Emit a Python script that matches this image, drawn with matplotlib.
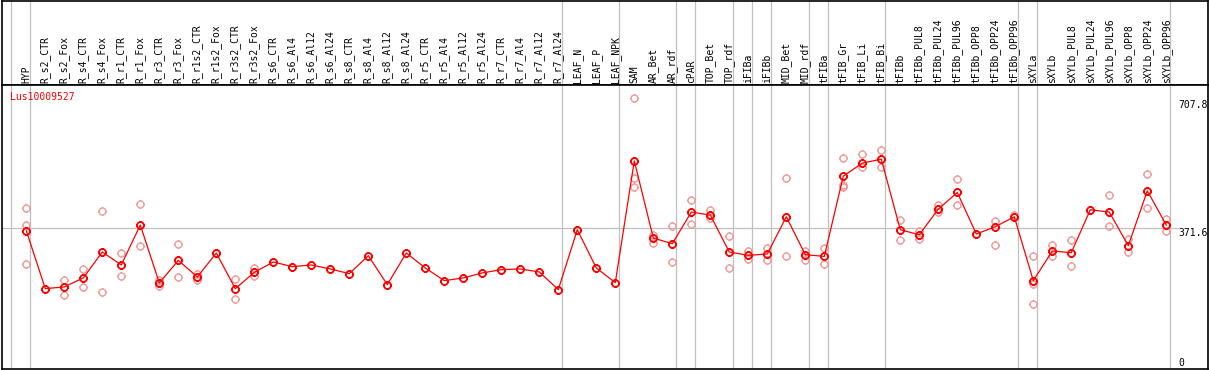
"""Perfil de expresión de un gen: media por muestra y réplicas, con cabecera de etiquetas."""

import matplotlib

matplotlib.use("Agg")

import matplotlib.pyplot as plt
import matplotlib.transforms as mtransforms
from matplotlib.path import Path

GENE = "Lus10009527"

CATEGORIES = [
    "HYP", "R_s2_CTR", "R_s2_Fox", "R_s4_CTR", "R_s4_Fox", "R_r1_CTR", "R_r1_Fox",
    "R_r3_CTR", "R_r3_Fox", "R_r1s2_CTR", "R_r1s2_Fox", "R_r3s2_CTR", "R_r3s2_Fox",
    "R_s6_CTR", "R_s6_Al4", "R_s6_Al12", "R_s6_Al24", "R_s8_CTR", "R_s8_Al4",
    "R_s8_Al12", "R_s8_Al24", "R_r5_CTR", "R_r5_Al4", "R_r5_Al12", "R_r5_Al24",
    "R_r7_CTR", "R_r7_Al4", "R_r7_Al12", "R_r7_Al24", "LEAF_N", "LEAF_P", "LEAF_NPK",
    "SAM", "AR_Bet", "AR_rdf", "cPAR", "TOP_Bet", "TOP_rdf", "iFIBa", "iFIBb",
    "MID_Bet", "MID_rdf", "tFIBa", "tFIB_Gr", "tFIB_Li", "tFIB_Bi", "tFIBb",
    "tFIBb_PUL8", "tFIBb_PUL24", "tFIBb_PUL96", "tFIBb_OPP8", "tFIBb_OPP24",
    "tFIBb_OPP96", "sXYLa", "sXYLb", "sXYLb_PUL8", "sXYLb_PUL24", "sXYLb_PUL96",
    "sXYLb_OPP8", "sXYLb_OPP24", "sXYLb_OPP96",
]

MEANS = [
    363.9, 198.3, 203.2, 228.9, 303.1, 266.0, 380.1, 214.6, 279.1, 231.7, 300.2,
    198.3, 244.9, 274.5, 261.1, 266.0, 254.6, 241.2, 292.5, 209.8, 300.2, 257.4,
    221.2, 228.9, 243.2, 252.6, 254.6, 246.0, 195.5, 366.7, 257.4, 215.5, 563.6,
    343.0, 326.8, 417.2, 408.7, 303.1, 293.4, 297.4, 403.8, 295.4, 290.5, 520.0,
    557.1, 568.5, 366.7, 352.5, 425.8, 473.2, 354.5, 375.3, 403.8, 221.2, 305.9,
    301.1, 423.8, 417.2, 321.1, 478.0, 380.1,
]

# réplicas visibles (las que quedan tapadas por la media se omiten)
REPLICATES = [
    [428.7, 381.0, 268.8], [], [224.0, 179.2], [254.6, 203.2], [421.0, 188.9],
    [300.2, 235.4], [440.1, 320.2], [224.0, 206.9], [325.9, 231.7], [241.2, 222.0],
    [], [226.0, 169.0], [257.4, 235.4], [], [], [], [], [], [], [], [], [], [], [],
    [], [], [], [], [], [], [], [], [743.4, 514.3, 488.6], [352.5, 328.8],
    [378.1, 274.5], [452.3, 383.0], [421.8, 400.1], [349.6, 257.4], [304.8, 283.1],
    [314.5, 279.1], [514.3, 292.5], [304.8, 281.1], [314.5, 268.8],
    [571.3, 495.2, 490.3], [583.6, 545.7], [595.0, 545.7], [395.3, 338.2],
    [363.9, 340.2], [437.2, 416.1], [511.4, 437.2], [], [390.4, 322.4], [409.5],
    [292.5, 212.6, 155.5], [321.9, 290.5], [337.6, 264.0], [], [465.8, 376.1],
    [341.0, 303.1], [525.7, 428.7], [398.7, 363.0],
]

# último índice de cada grupo de muestras (-1 = borde inicial)
GROUP_ENDS = [-1, 0, 28, 31, 34, 35, 37, 38, 39, 41, 42, 45, 52, 53, 60]
Y_LABELS = [0, 371.6, 707.8]
REFERENCE_LEVEL = 371.6

W, H = 1209, 370
GRID = "#c0c0c0"
FONT = {"family": "DejaVu Sans Mono", "size": 7}


def _px_axes(fig, left, top, right, bottom):
    return fig.add_axes([left / W, 1 - bottom / H, (right - left) / W, (bottom - top) / H])


def _tick_marker():
    ticks = Path(
        [(0, 1), (0, 1.3), (0, -1), (0, -1.3), (1, 0), (1.3, 0), (-1, 0), (-1.3, 0)],
        [Path.MOVETO, Path.LINETO] * 4,
    )
    return Path.make_compound_path(Path.unit_circle(), ticks)


fig = plt.figure(figsize=(W / 100, H / 100), dpi=100)
header = _px_axes(fig, 1.5, 0.5, 1207.5, 85)
ax = _px_axes(fig, 1.5, 85, 1207.5, 368.5)

xlim = ((1.5 - 26.3) / 19, (1207.5 - 26.3) / 19)
for a in (header, ax):
    a.set_xlim(*xlim)
    a.set_xticks([])
    a.set_yticks([])
    for spine in a.spines.values():
        spine.set_color("black")
        spine.set_linewidth(1.2)
header.set_ylim(0, 1)
ax.set_ylim(-30.0, 780.5)

for end in GROUP_ENDS:
    header.axvline(end + 0.22, color=GRID, lw=0.9, zorder=0)
    ax.axvline(end + 0.22, color=GRID, lw=0.9, zorder=0)

label_x = (1178 - 1.5) / 1206
ax.axhline(REFERENCE_LEVEL, xmax=label_x, color=GRID, lw=0.9, zorder=0)

for i, name in enumerate(CATEGORIES):
    header.text(i, 0.025, name, rotation=90, ha="center", va="bottom", **FONT)

marker = _tick_marker()
x = list(range(len(CATEGORIES)))
rep_x = [i for i, reps in enumerate(REPLICATES) for _ in reps]
rep_y = [v for reps in REPLICATES for v in reps]
ax.plot(rep_x, rep_y, ls="none", marker=marker, ms=6.5, mfc="none",
        mec="#f09a9a", mew=1.0, zorder=2)
ax.plot(x, MEANS, color="red", lw=0.9, marker=marker, ms=6.5, mfc="none",
        mec="red", mew=1.3, zorder=3)

trans = mtransforms.blended_transform_factory(ax.transAxes, ax.transData)
for value in Y_LABELS:
    va = "bottom" if value == max(Y_LABELS) else "top"
    ax.text(label_x, value, f"{value:g}", transform=trans, ha="left", va=va, **FONT)

ax.text(0.007, 0.975, GENE, transform=ax.transAxes, color="red", ha="left", va="top", **FONT)

fig.savefig("out.png", dpi=100)
plt.close(fig)
